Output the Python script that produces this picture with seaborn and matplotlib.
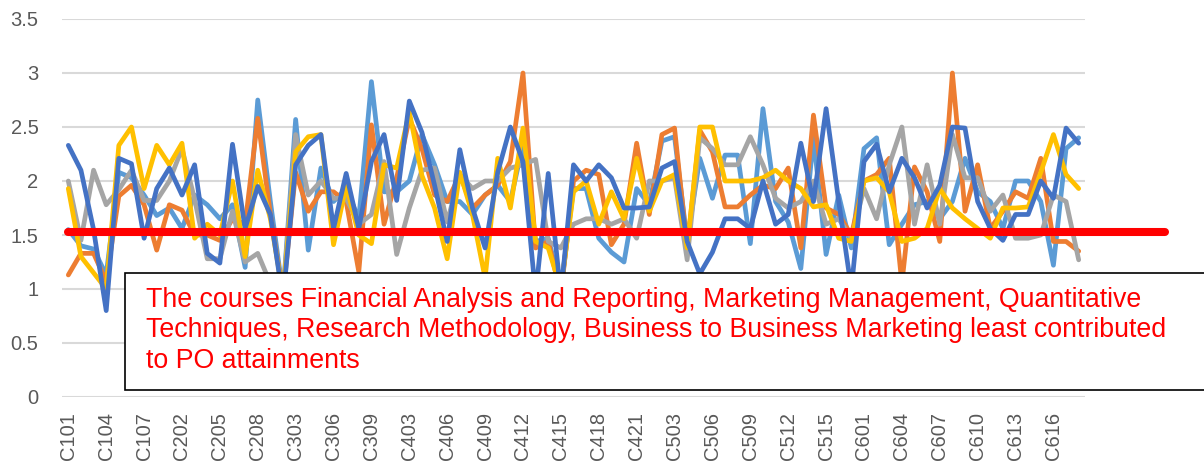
import pandas as pd
import seaborn as sns
import matplotlib.pyplot as plt
from matplotlib.patches import Rectangle
from matplotlib.ticker import FormatStrFormatter

# course codes (C101 ... C618)
courses = (['C101', 'C102', 'C103', 'C104', 'C105', 'C106', 'C107', 'C108'] +
           ['C201', 'C202', 'C203', 'C204', 'C205', 'C206', 'C207', 'C208'] +
           ['C301', 'C302', 'C303', 'C304', 'C305', 'C306', 'C307', 'C308', 'C309'] +
           ['C401', 'C402', 'C403', 'C404', 'C405', 'C406', 'C407', 'C408', 'C409', 'C410',
            'C411', 'C412', 'C413', 'C414', 'C415', 'C416', 'C417', 'C418', 'C419', 'C420', 'C421'] +
           ['C501', 'C502', 'C503', 'C504', 'C505', 'C506', 'C507', 'C508', 'C509', 'C510',
            'C511', 'C512', 'C513', 'C514', 'C515', 'C516', 'C517'] +
           ['C601', 'C602', 'C603', 'C604', 'C605', 'C606', 'C607', 'C608', 'C609', 'C610',
            'C611', 'C612', 'C613', 'C614', 'C615', 'C616', 'C617', 'C618'])

s1 = [1.55, 1.40, 1.37, 1.13, 2.08, 2.03, 1.87, 1.68, 1.75, 1.56, 1.87, 1.78, 1.65, 1.78, 1.20, 2.75,
      1.81, 0.95, 2.57, 1.36, 2.12, 1.81, 1.93, 1.65, 2.92, 1.90, 1.90, 2.00, 2.43, 2.15, 1.81, 1.81,
      1.69, 1.87, 1.96, 1.81, 2.34, 1.44, 1.47, 1.00, 1.93, 1.93, 1.47, 1.34, 1.25, 1.93, 1.78, 2.37,
      2.41, 1.44, 2.21, 1.84, 2.24, 2.24, 1.42, 2.67, 1.81, 1.62, 1.19, 2.40, 1.32, 1.87, 1.38, 2.30,
      2.40, 1.41, 1.60, 1.78, 1.81, 1.65, 1.81, 2.21, 1.90, 1.81, 1.56, 2.00, 2.00, 1.81, 1.22, 2.30,
      2.40]
s2 = [1.13, 1.33, 1.33, 1.07, 1.86, 1.96, 1.78, 1.36, 1.78, 1.73, 1.50, 1.50, 1.45, 1.65, 1.60, 2.58,
      1.69, 0.95, 2.08, 1.72, 1.90, 1.90, 1.81, 1.16, 2.52, 1.60, 2.03, 2.58, 2.30, 1.87, 1.81, 2.06,
      1.75, 1.87, 1.96, 2.18, 3.00, 1.38, 1.44, 0.95, 2.00, 2.10, 2.06, 1.41, 1.60, 2.35, 1.69, 2.43,
      2.49, 1.38, 2.47, 2.27, 1.76, 1.76, 1.87, 1.96, 1.93, 2.12, 1.38, 2.61, 1.75, 1.69, 1.50, 2.00,
      2.06, 2.21, 1.05, 2.13, 1.90, 1.44, 3.00, 1.72, 2.15, 1.56, 1.72, 1.90, 1.84, 2.21, 1.44, 1.44,
      1.35]
s3 = [2.00, 1.45, 2.10, 1.78, 1.92, 2.10, 1.82, 1.82, 2.00, 2.30, 1.83, 1.28, 1.28, 1.72, 1.25, 1.33,
      1.05, 0.95, 2.43, 1.87, 2.00, 1.84, 1.84, 1.60, 1.69, 2.18, 1.32, 1.75, 2.10, 2.12, 1.62, 2.06,
      1.93, 2.00, 2.00, 2.12, 2.15, 2.20, 1.44, 1.38, 1.60, 1.65, 1.65, 1.60, 1.65, 1.47, 2.00, 2.00,
      2.03, 1.27, 2.40, 2.30, 2.15, 2.15, 2.41, 2.15, 1.84, 1.75, 1.81, 2.00, 1.60, 1.65, 1.47, 1.93,
      1.65, 2.15, 2.50, 1.60, 2.15, 1.60, 2.43, 2.03, 2.03, 1.72, 1.87, 1.47, 1.47, 1.50, 1.87, 1.81,
      1.27]
s4 = [1.93, 1.30, 1.15, 1.00, 2.33, 2.50, 1.93, 2.33, 2.15, 2.35, 1.47, 1.60, 1.50, 2.00, 1.30, 2.10,
      1.65, 0.95, 2.27, 2.41, 2.43, 1.41, 1.96, 1.50, 1.42, 2.15, 2.12, 2.64, 2.05, 1.75, 1.28, 2.08,
      1.69, 1.10, 2.21, 1.75, 2.49, 1.44, 1.38, 1.00, 1.90, 2.00, 1.60, 1.90, 1.65, 2.21, 1.72, 2.00,
      2.06, 1.38, 2.50, 2.50, 2.00, 2.00, 2.00, 2.03, 2.10, 2.00, 1.93, 1.76, 1.78, 1.47, 1.44, 2.00,
      2.03, 1.90, 1.44, 1.47, 1.56, 1.93, 1.75, 1.65, 1.56, 1.47, 1.75, 1.75, 1.76, 2.08, 2.43, 2.06,
      1.93]
s5 = [2.33, 2.10, 1.55, 0.80, 2.21, 2.16, 1.47, 1.93, 2.12, 1.87, 2.15, 1.33, 1.24, 2.34, 1.56, 1.95,
      1.69, 0.90, 2.15, 2.33, 2.43, 1.56, 2.07, 1.56, 2.18, 2.43, 1.82, 2.74, 2.45, 1.96, 1.44, 2.29,
      1.75, 1.38, 2.08, 2.50, 2.18, 0.95, 2.07, 0.95, 2.15, 2.00, 2.15, 2.03, 1.75, 1.75, 1.76, 2.12,
      2.18, 1.44, 1.14, 1.34, 1.65, 1.65, 1.56, 2.00, 1.60, 1.69, 2.35, 1.81, 2.67, 1.81, 1.00, 2.18,
      2.34, 1.90, 2.21, 2.03, 1.75, 1.96, 2.50, 2.49, 1.81, 1.56, 1.45, 1.69, 1.69, 2.00, 1.84, 2.49,
      2.35]

series_names = ['PO1', 'PO2', 'PO3', 'PO4', 'PO5']
colors = ['#5B9BD5', '#ED7D31', '#A5A5A5', '#FFC000', '#4472C4']
threshold = 1.53
note = ('The courses Financial Analysis and Reporting, Marketing Management, Quantitative\n'
        'Techniques, Research Methodology, Business to Business Marketing least contributed\n'
        'to PO attainments')


def plot_po_attainment():
    frames = []
    for name, vals in zip(series_names, [s1, s2, s3, s4, s5]):
        frames.append(pd.DataFrame({'course': courses, 'value': vals, 'series': name}))
    df = pd.concat(frames, ignore_index=True)

    sns.set_style('white')
    plt.rcParams['font.family'] = ['Liberation Sans', 'DejaVu Sans']

    fig = plt.figure(figsize=(12.04, 4.63), dpi=100)
    ax = fig.add_axes([62 / 1204, 1 - 397 / 463, 1023 / 1204, 378 / 463])

    sns.lineplot(data=df, x='course', y='value', hue='series', palette=colors,
                 sort=False, errorbar=None, linewidth=3.4, legend=False, ax=ax)

    ax.set_xlim(-0.5, len(courses) - 0.5)
    ax.set_ylim(0, 3.5)
    ax.set_yticks([0, 0.5, 1, 1.5, 2, 2.5, 3, 3.5])
    ax.yaxis.set_major_formatter(FormatStrFormatter('%g'))
    ax.set_xticks(range(0, len(courses), 3))
    ax.set_xticklabels(courses[::3], rotation=90)
    ax.tick_params(axis='both', length=0, labelsize=14.5, colors='#595959')
    ax.tick_params(axis='y', pad=17)
    ax.tick_params(axis='x', pad=11)
    ax.set_xlabel('')
    ax.set_ylabel('')
    ax.grid(axis='y', color='#D9D9D9', linewidth=1.5)
    ax.grid(axis='x', visible=False)
    for sp in ax.spines.values():
        sp.set_visible(False)

    # 红色阈值线 (extends past the plot area)
    ax.axhline(threshold, xmin=0.006, xmax=1.078, color='#FF0000', linewidth=5.8,
               clip_on=False, zorder=5)

    # text box
    box = Rectangle((125 / 1204, 1 - 390 / 463), 1.0, 117 / 463, transform=fig.transFigure,
                    facecolor='white', edgecolor='black', linewidth=1.2, zorder=6)
    fig.add_artist(box)
    fig.text(146 / 1204, 1 - 287 / 463, note, color='#FF0000', fontsize=19.3,
             va='top', ha='left', linespacing=1.22, zorder=7)

    fig.savefig('out.png', dpi=100)


if __name__ == '__main__':
    plot_po_attainment()
